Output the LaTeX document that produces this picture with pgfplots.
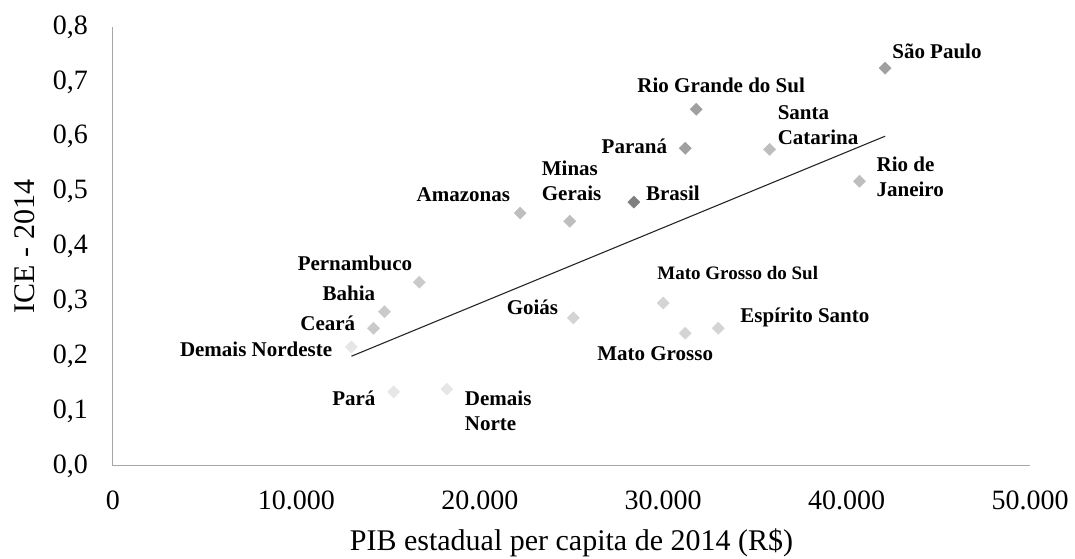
\documentclass[border=0pt]{standalone}
\usepackage{pgfplots}
\pgfplotsset{compat=1.18}
\usepackage{fontspec}
\setmainfont{Liberation Serif}
\definecolor{axisgray}{HTML}{A6A6A6}
\definecolor{gA}{HTML}{7F7F7F}
\definecolor{gB}{HTML}{A0A0A0}
\definecolor{gC}{HTML}{BEBEBE}
\definecolor{gD}{HTML}{CACACA}
\definecolor{gE}{HTML}{D4D4D4}
\definecolor{gF}{HTML}{E6E6E6}
\tikzset{lbl/.style={inner sep=0pt, font=\fontsize{21}{25}\selectfont\bfseries, align=left}}
\begin{document}
\begin{tikzpicture}
\begin{axis}[
  scale only axis, width=917pt, height=439pt,
  xmin=0, xmax=50000, ymin=0, ymax=0.8,
  axis x line*=bottom, axis y line*=left,
  axis line style={draw=axisgray, line width=1pt, -},
  xtick={0,10000,20000,30000,40000,50000},
  xticklabels={0,10.000,20.000,30.000,40.000,50.000},
  ytick={0,0.1,0.2,0.3,0.4,0.5,0.6,0.7,0.8},
  yticklabels={{0,0},{0,1},{0,2},{0,3},{0,4},{0,5},{0,6},{0,7},{0,8}},
  scaled ticks=false,
  major tick length=0pt, tick style={draw=none},
  xticklabel style={font=\fontsize{28}{30}\selectfont, anchor=north, inner sep=0pt, yshift=-25pt},
  yticklabel style={font=\fontsize{28}{30}\selectfont, anchor=east, inner sep=0pt, xshift=-25pt},
  xlabel={PIB estadual per capita de 2014 (R\$)},
  ylabel={ICE - 2014},
  xlabel style={font=\fontsize{30}{32}\selectfont, at={(axis description cs:0.5,-0.175)}, anchor=center, inner sep=0pt},
  ylabel style={font=\fontsize{30}{32}\selectfont, at={(axis description cs:-0.096,0.5)}, anchor=center, inner sep=0pt},
  clip=false,
  mymark/.style={only marks, mark=square*, mark size=4.3pt, mark options={rotate=45, draw=#1, fill=#1}},
]
% trend line
\addplot[black!85, line width=1.1pt, no marks] coordinates {(13000,0.200) (42100,0.601)};
% Brasil
\addplot[mymark=gA] coordinates {(28400,0.481)};
% Sao Paulo, RGS, Parana
\addplot[mymark=gB] coordinates {(42100,0.725) (31800,0.650) (31200,0.579)};
% SC, RJ, Amazonas, Minas
\addplot[mymark=gC] coordinates {(35800,0.577) (40700,0.519) (22200,0.461) (24900,0.446)};
% Pernambuco, Bahia, Ceara
\addplot[mymark=gD] coordinates {(16700,0.335) (14800,0.281) (14200,0.251)};
% Goias, MS, MT, ES
\addplot[mymark=gE] coordinates {(25100,0.270) (30000,0.297) (31200,0.242) (33000,0.251)};
% Demais Nordeste, Para, Demais Norte
\addplot[mymark=gF] coordinates {(13000,0.217) (15300,0.135) (18200,0.140)};

\node[lbl, anchor=west, xshift=7pt, yshift=17pt] at (axis cs:42100,0.725) {São Paulo};
\node[lbl, anchor=center, xshift=25pt, yshift=24pt] at (axis cs:31800,0.650) {Rio Grande do Sul};
\node[lbl, anchor=east, xshift=-18pt, yshift=2pt] at (axis cs:31200,0.579) {Paraná};
\node[lbl, anchor=west, xshift=8pt, yshift=24pt] at (axis cs:35800,0.577) {Santa\\Catarina};
\node[lbl, anchor=west, xshift=17pt, yshift=4pt] at (axis cs:40700,0.519) {Rio de\\Janeiro};
\node[lbl, anchor=west, xshift=12pt, yshift=9pt] at (axis cs:28400,0.481) {Brasil};
\node[lbl, anchor=east, xshift=-10pt, yshift=18pt] at (axis cs:22200,0.461) {Amazonas};
\node[lbl, anchor=west, xshift=-28pt, yshift=40pt] at (axis cs:24900,0.446) {Minas\\Gerais};
\node[lbl, anchor=east, xshift=-7pt, yshift=19pt] at (axis cs:16700,0.335) {Pernambuco};
\node[lbl, anchor=east, xshift=-9pt, yshift=18pt] at (axis cs:14800,0.281) {Bahia};
\node[lbl, anchor=east, xshift=-18pt, yshift=5pt] at (axis cs:14200,0.251) {Ceará};
\node[lbl, anchor=east, xshift=-19pt, yshift=-2pt] at (axis cs:13000,0.217) {Demais Nordeste};
\node[lbl, anchor=east, xshift=-18pt, yshift=-6pt] at (axis cs:15300,0.135) {Pará};
\node[lbl, anchor=west, xshift=18pt, yshift=-22pt] at (axis cs:18200,0.140) {Demais\\Norte};
\node[lbl, anchor=east, xshift=-15pt, yshift=11pt] at (axis cs:25100,0.270) {Goiás};
\node[lbl, anchor=west, xshift=-6pt, yshift=30pt, font=\fontsize{19}{23}\selectfont\bfseries] at (axis cs:30000,0.297) {Mato Grosso do Sul};
\node[lbl, anchor=east, xshift=28pt, yshift=-20pt] at (axis cs:31200,0.242) {Mato Grosso};
\node[lbl, anchor=west, xshift=22pt, yshift=11pt] at (axis cs:33000,0.251) {Espírito Santo};
\end{axis}
\pgfresetboundingbox
\path[use as bounding box] ([shift={(-113pt,-93pt)}]current axis.south west) rectangle ([shift={(45pt,27pt)}]current axis.north east);
\end{tikzpicture}
\end{document}
